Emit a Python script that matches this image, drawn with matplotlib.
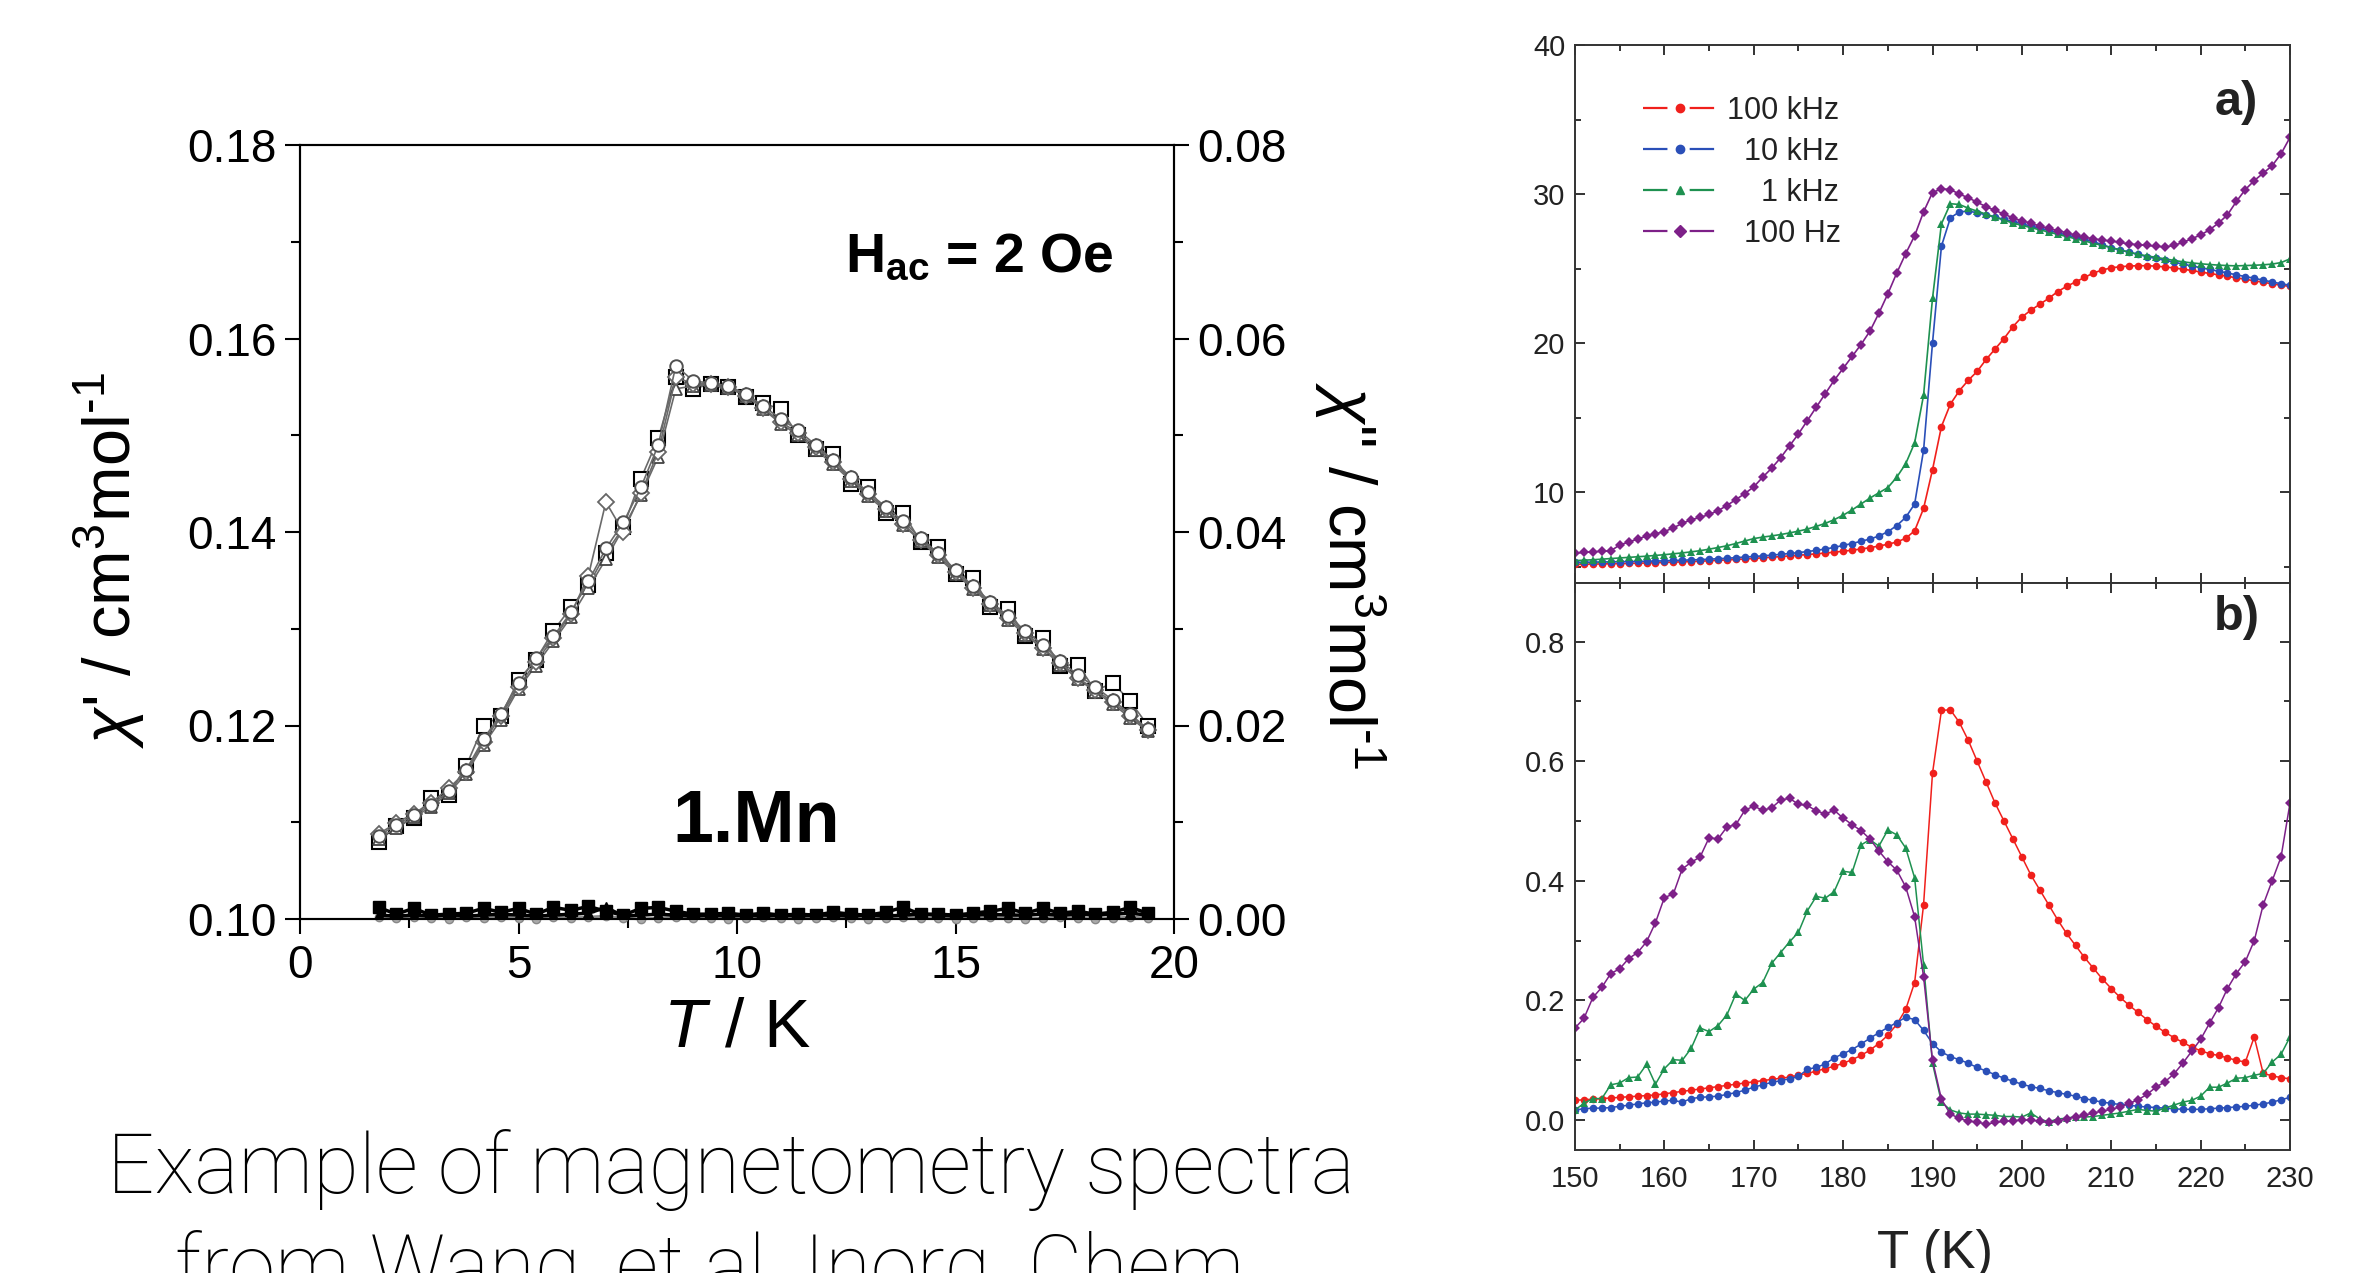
import matplotlib
matplotlib.use("Agg")
import matplotlib.pyplot as plt
from matplotlib.lines import Line2D
from matplotlib.ticker import MultipleLocator, FormatStrFormatter

plt.rcParams['font.family'] = ['Liberation Sans', 'DejaVu Sans']
plt.rcParams['mathtext.fontset'] = 'custom'
plt.rcParams['mathtext.rm'] = 'Liberation Sans'
plt.rcParams['mathtext.it'] = 'Liberation Sans:italic'
plt.rcParams['mathtext.bf'] = 'Liberation Sans:bold'

# ---- left chart: 1.Mn, chi' (left axis) and chi'' (right axis) ----
T_mn = [1.8, 2.2, 2.6, 3.0, 3.4, 3.8, 4.2, 4.6, 5.0, 5.4, 5.8, 6.2, 6.6, 7.0, 7.4,
        7.8, 8.2, 8.6, 9.0, 9.4, 9.8, 10.2, 10.6, 11.0, 11.4, 11.8, 12.2, 12.6, 13.0,
        13.4, 13.8, 14.2, 14.6, 15.0, 15.4, 15.8, 16.2, 16.6, 17.0, 17.4, 17.8, 18.2,
        18.6, 19.0, 19.4]
chi1_sq = [0.1080, 0.1096, 0.1104, 0.1125, 0.1128, 0.1158, 0.1200, 0.1210, 0.1247,
           0.1268, 0.1298, 0.1322, 0.1345, 0.1378, 0.1405, 0.1455, 0.1497, 0.1560,
           0.1548, 0.1553, 0.1550, 0.1540, 0.1533, 0.1527, 0.1500, 0.1486, 0.1481,
           0.1450, 0.1446, 0.1420, 0.1420, 0.1390, 0.1384, 0.1357, 0.1352, 0.1322,
           0.1320, 0.1293, 0.1290, 0.1262, 0.1263, 0.1236, 0.1244, 0.1225, 0.1200]
chi1_tri = [0.1083, 0.1094, 0.1105, 0.1116, 0.1130, 0.1150, 0.1180, 0.1206, 0.1238,
            0.1262, 0.1287, 0.1312, 0.1342, 0.1372, 0.1404, 0.1438, 0.1478, 0.1548,
            0.1551, 0.1552, 0.1549, 0.1541, 0.1527, 0.1512, 0.1500, 0.1485, 0.1470,
            0.1453, 0.1437, 0.1422, 0.1407, 0.1391, 0.1374, 0.1357, 0.1341, 0.1325,
            0.1309, 0.1294, 0.1279, 0.1263, 0.1248, 0.1235, 0.1222, 0.1208, 0.1194]
chi1_dia = [0.1088, 0.1099, 0.1109, 0.1120, 0.1135, 0.1152, 0.1183, 0.1210, 0.1240,
            0.1266, 0.1290, 0.1315, 0.1355, 0.1431, 0.1400, 0.1440, 0.1483, 0.1560,
            0.1553, 0.1553, 0.1550, 0.1541, 0.1528, 0.1514, 0.1502, 0.1488, 0.1472,
            0.1455, 0.1439, 0.1424, 0.1408, 0.1392, 0.1376, 0.1359, 0.1342, 0.1326,
            0.1311, 0.1296, 0.1280, 0.1265, 0.1249, 0.1237, 0.1224, 0.1210, 0.1195]
chi1_circ = [0.1086, 0.1097, 0.1107, 0.1118, 0.1132, 0.1154, 0.1186, 0.1212, 0.1244,
             0.1270, 0.1292, 0.1317, 0.1349, 0.1383, 0.1410, 0.1446, 0.1490, 0.1572,
             0.1556, 0.1554, 0.1551, 0.1543, 0.1530, 0.1517, 0.1505, 0.1490, 0.1474,
             0.1457, 0.1441, 0.1426, 0.1411, 0.1394, 0.1378, 0.1361, 0.1344, 0.1328,
             0.1313, 0.1298, 0.1283, 0.1267, 0.1252, 0.1240, 0.1226, 0.1212, 0.1196]
chi2_sq = [0.0012, 0.0005, 0.0011, 0.0004, 0.0005, 0.0006, 0.0011, 0.0007, 0.0011,
           0.0005, 0.0012, 0.0009, 0.0013, 0.0008, 0.0004, 0.0011, 0.0012, 0.0008,
           0.0005, 0.0005, 0.0006, 0.0004, 0.0006, 0.0004, 0.0005, 0.0004, 0.0007,
           0.0005, 0.0004, 0.0007, 0.0012, 0.0005, 0.0005, 0.0004, 0.0006, 0.0008,
           0.0011, 0.0006, 0.0011, 0.0006, 0.0008, 0.0005, 0.0007, 0.0012, 0.0006]
chi2_tri = [0.0004, 0.0003, 0.0004, 0.0003, 0.0004, 0.0003, 0.0004, 0.0005, 0.0004,
            0.0003, 0.0004, 0.0005, 0.0006, 0.0012, 0.0003, 0.0004, 0.0005, 0.0004,
            0.0003, 0.0004, 0.0003, 0.0004, 0.0003, 0.0004, 0.0003, 0.0004, 0.0004,
            0.0003, 0.0004, 0.0003, 0.0004, 0.0005, 0.0004, 0.0003, 0.0004, 0.0005,
            0.0004, 0.0004, 0.0005, 0.0004, 0.0005, 0.0004, 0.0005, 0.0006, 0.0004]
chi2_circ = [0.0002, 0.0001, 0.0002, 0.0001, 0.0000, 0.0002, 0.0001, 0.0002, 0.0001,
             0.0000, 0.0002, 0.0001, 0.0002, 0.0003, 0.0001, 0.0000, 0.0001, 0.0002,
             0.0001, 0.0001, 0.0000, 0.0001, 0.0002, 0.0001, 0.0000, 0.0001, 0.0002,
             0.0001, 0.0000, 0.0001, 0.0002, 0.0001, 0.0001, 0.0000, 0.0001, 0.0002,
             0.0001, 0.0000, 0.0001, 0.0002, 0.0001, 0.0000, 0.0001, 0.0002, 0.0001]

# ---- right chart: panels a) and b), 150-230 K in 1 K steps ----
T_ab = list(range(150, 231))
freq_labels = ["100 kHz", "  10 kHz", "    1 kHz", "  100 Hz"]
freq_colors = ["#f0201c", "#2a4fb8", "#1e9150", "#7d2088"]
freq_markers = ["o", "o", "^", "D"]

a_100k = [5.15, 5.16, 5.17, 5.18, 5.19, 5.20, 5.21, 5.23, 5.24, 5.26,
          5.28, 5.30, 5.32, 5.34, 5.36, 5.39, 5.42, 5.45, 5.48, 5.51,
          5.55, 5.59, 5.63, 5.67, 5.72, 5.76, 5.81, 5.86, 5.91, 5.97,
          6.03, 6.10, 6.18, 6.27, 6.38, 6.50, 6.65, 6.90, 7.40, 8.90,
          11.5, 14.4, 15.9, 16.8, 17.5, 18.1, 18.9, 19.6, 20.3, 21.1,
          21.75, 22.2, 22.6, 23.0, 23.45, 23.8, 24.1, 24.4, 24.7, 24.9,
          25.05, 25.12, 25.17, 25.19, 25.19, 25.16, 25.11, 25.04, 24.96, 24.87,
          24.77, 24.67, 24.58, 24.48, 24.38, 24.28, 24.18, 24.08, 23.98, 23.88,
          23.8]
a_10k = [5.28, 5.29, 5.30, 5.31, 5.32, 5.33, 5.34, 5.35, 5.36, 5.37,
         5.39, 5.41, 5.43, 5.45, 5.47, 5.50, 5.53, 5.56, 5.60, 5.64,
         5.68, 5.72, 5.77, 5.82, 5.88, 5.94, 6.01, 6.09, 6.18, 6.29,
         6.42, 6.55, 6.70, 6.85, 7.05, 7.34, 7.75, 8.30, 9.20, 12.8,
         20.0, 26.5, 28.4, 28.8, 28.85, 28.75, 28.6, 28.45, 28.3, 28.15,
         28.0, 27.85, 27.7, 27.55, 27.4, 27.25, 27.1, 26.95, 26.8, 26.6,
         26.4, 26.25, 26.1, 25.95, 25.8, 25.68, 25.55, 25.43, 25.3, 25.18,
         25.06, 24.94, 24.82, 24.7, 24.58, 24.46, 24.35, 24.22, 24.1, 23.98,
         23.88]
a_1k = [5.40, 5.43, 5.46, 5.50, 5.54, 5.58, 5.62, 5.66, 5.70, 5.75,
        5.80, 5.86, 5.92, 5.99, 6.07, 6.17, 6.28, 6.40, 6.55, 6.72,
        6.88, 6.98, 7.06, 7.15, 7.26, 7.38, 7.52, 7.70, 7.90, 8.15,
        8.45, 8.80, 9.20, 9.60, 9.95, 10.3, 11.0, 11.9, 13.3, 16.5,
        23.0, 28.0, 29.35, 29.3, 29.05, 28.85, 28.65, 28.45, 28.25, 28.05,
        27.9, 27.75, 27.6, 27.45, 27.3, 27.15, 27.0, 26.85, 26.7, 26.55,
        26.4, 26.25, 26.1, 25.95, 25.85, 25.75, 25.65, 25.55, 25.45, 25.38,
        25.32, 25.27, 25.23, 25.2, 25.18, 25.2, 25.22, 25.25, 25.3, 25.4,
        25.65]
a_100 = [5.90, 5.95, 6.00, 6.02, 6.06, 6.45, 6.65, 6.85, 7.05, 7.20,
         7.35, 7.60, 7.90, 8.15, 8.30, 8.50, 8.75, 9.10, 9.50, 9.90,
         10.35, 11.0, 11.6, 12.3, 13.1, 13.9, 14.8, 15.7, 16.6, 17.5,
         18.3, 19.1, 19.9, 20.8, 22.0, 23.3, 24.7, 26.0, 27.2, 28.8,
         30.1, 30.35, 30.3, 30.0, 29.75, 29.45, 29.15, 28.9, 28.65, 28.4,
         28.2, 28.05, 27.85, 27.7, 27.55, 27.4, 27.25, 27.1, 27.0, 26.9,
         26.85, 26.75, 26.65, 26.6, 26.55, 26.5, 26.45, 26.55, 26.75, 27.0,
         27.25, 27.6, 28.05, 28.6, 29.5, 30.3, 30.9, 31.4, 31.9, 32.7,
         33.8]

b_100k = [0.033, 0.034, 0.035, 0.036, 0.037, 0.038, 0.039, 0.040, 0.041, 0.042,
          0.044, 0.046, 0.048, 0.050, 0.052, 0.054, 0.056, 0.058, 0.060, 0.062,
          0.064, 0.066, 0.068, 0.070, 0.072, 0.075, 0.078, 0.082, 0.086, 0.090,
          0.095, 0.101, 0.108, 0.117, 0.128, 0.142, 0.160, 0.185, 0.230, 0.360,
          0.580, 0.685, 0.686, 0.665, 0.635, 0.600, 0.565, 0.530, 0.500, 0.470,
          0.440, 0.410, 0.385, 0.360, 0.335, 0.312, 0.292, 0.272, 0.254, 0.236,
          0.220, 0.205, 0.192, 0.180, 0.168, 0.157, 0.147, 0.138, 0.130, 0.122,
          0.116, 0.111, 0.108, 0.104, 0.100, 0.097, 0.139, 0.078, 0.074, 0.071,
          0.069]
b_10k = [0.017, 0.019, 0.020, 0.020, 0.021, 0.023, 0.025, 0.027, 0.029, 0.030,
         0.032, 0.033, 0.030, 0.036, 0.038, 0.039, 0.040, 0.043, 0.046, 0.050,
         0.055, 0.059, 0.063, 0.066, 0.069, 0.073, 0.085, 0.088, 0.094, 0.104,
         0.111, 0.118, 0.127, 0.137, 0.146, 0.155, 0.163, 0.172, 0.168, 0.150,
         0.128, 0.114, 0.106, 0.101, 0.095, 0.088, 0.082, 0.076, 0.070, 0.065,
         0.060, 0.056, 0.053, 0.049, 0.046, 0.043, 0.040, 0.036, 0.033, 0.030,
         0.028, 0.026, 0.025, 0.023, 0.022, 0.021, 0.020, 0.019, 0.018, 0.018,
         0.018, 0.019, 0.020, 0.021, 0.022, 0.023, 0.025, 0.027, 0.030, 0.034,
         0.038]
b_1k = [0.017, 0.028, 0.036, 0.036, 0.059, 0.062, 0.071, 0.072, 0.093, 0.060,
        0.086, 0.101, 0.100, 0.120, 0.154, 0.148, 0.158, 0.176, 0.211, 0.200,
        0.219, 0.230, 0.262, 0.280, 0.298, 0.314, 0.350, 0.374, 0.371, 0.382,
        0.416, 0.414, 0.460, 0.469, 0.458, 0.485, 0.477, 0.455, 0.405, 0.260,
        0.095, 0.030, 0.017, 0.012, 0.010, 0.010, 0.009, 0.008, 0.006, 0.006,
        0.005, 0.012, 0.002, -0.003, 0.002, 0.003, 0.006, 0.005, 0.006, 0.008,
        0.010, 0.012, 0.015, 0.018, 0.016, 0.015, 0.020, 0.025, 0.030, 0.033,
        0.040, 0.055, 0.055, 0.062, 0.070, 0.071, 0.075, 0.078, 0.097, 0.110,
        0.139]
b_100 = [0.154, 0.170, 0.205, 0.222, 0.245, 0.253, 0.270, 0.280, 0.298, 0.330,
         0.372, 0.378, 0.420, 0.431, 0.440, 0.472, 0.470, 0.490, 0.494, 0.518,
         0.525, 0.518, 0.522, 0.535, 0.538, 0.528, 0.526, 0.517, 0.512, 0.518,
         0.505, 0.494, 0.484, 0.470, 0.450, 0.432, 0.418, 0.390, 0.340, 0.240,
         0.100, 0.035, 0.010, 0.003, -0.002, -0.003, -0.007, -0.004, -0.002, -0.001,
         0.000, 0.000, -0.002, -0.004, -0.002, 0.002, 0.005, 0.008, 0.012, 0.015,
         0.018, 0.022, 0.028, 0.034, 0.043, 0.055, 0.064, 0.077, 0.095, 0.115,
         0.135, 0.162, 0.188, 0.220, 0.245, 0.265, 0.300, 0.360, 0.400, 0.440,
         0.530]

W, H = 2367, 1273
fig = plt.figure(figsize=(W / 100, H / 100), dpi=100)


def rect(l, t, r, b):
    # pixel box -> figure fraction
    return [l / W, 1 - b / H, (r - l) / W, (b - t) / H]


# left chart
ax1 = fig.add_axes(rect(300, 145, 1174, 919))
ax2 = ax1.twinx()
gray = "#6a6a6a"
ax1.plot(T_mn, chi1_sq, '-', color=gray, lw=1.2, marker='s', ms=10, mfc='white', mec='black', mew=1.5)
ax1.plot(T_mn, chi1_tri, '-', color=gray, lw=1.2, marker='^', ms=9, mfc='white', mec='#444444', mew=1.3)
ax1.plot(T_mn, chi1_dia, '-', color=gray, lw=1.2, marker='D', ms=8, mfc='white', mec='#666666', mew=1.3)
ax1.plot(T_mn, chi1_circ, '-', color=gray, lw=1.2, marker='o', ms=9, mfc='white', mec='#505050', mew=1.4)
ax2.plot(T_mn, chi2_circ, '-', color='#888888', lw=2, marker='o', ms=6, mfc='#aaaaaa', mec='#888888',
         clip_on=False)
ax2.plot(T_mn, chi2_sq, '-', color='black', lw=2.5, marker='s', ms=9, mfc='black', mec='black')
ax2.plot(T_mn, chi2_tri, '-', color='black', lw=2.5, marker='^', ms=7, mfc='black', mec='black')

ax1.set_xlim(0, 20)
ax1.set_ylim(0.10, 0.18)
ax2.set_ylim(0.0, 0.08)
ax1.xaxis.set_major_locator(MultipleLocator(5))
ax1.xaxis.set_minor_locator(MultipleLocator(2.5))
ax1.yaxis.set_major_locator(MultipleLocator(0.02))
ax1.yaxis.set_minor_locator(MultipleLocator(0.01))
ax2.yaxis.set_major_locator(MultipleLocator(0.02))
ax2.yaxis.set_minor_locator(MultipleLocator(0.01))
ax1.yaxis.set_major_formatter(FormatStrFormatter('%.2f'))
ax2.yaxis.set_major_formatter(FormatStrFormatter('%.2f'))
for a in (ax1, ax2):
    a.tick_params(which='major', direction='out', length=11, width=1.5, labelsize=33, pad=6)
    a.tick_params(which='minor', direction='out', length=6.5, width=1.5)
    for s in a.spines.values():
        s.set_linewidth(1.5)
ax1.tick_params(axis='x', which='major', pad=7)

ax1.set_xlabel(r"$T$ / K", fontsize=50)
ax1.xaxis.set_label_coords(0.5, -0.1)
fig.text(109 / W, 1 - 560 / H, "$\\chi$' / cm$^3$mol$^{\u2010 1}$", fontsize=48,
         rotation=90, ha='center', va='center')
fig.text(1350 / W, 1 - 575 / H, '$\\chi$" / cm$^3$mol$^{\u2010 1}$', fontsize=48,
         rotation=270, ha='center', va='center')
ax1.text(845 / W, 1 - 272 / H, r"$\mathbf{H_{ac}}$ = 2 Oe", transform=fig.transFigure,
         fontsize=40, fontweight='bold', ha='left', va='baseline')
ax1.text(756 / W, 1 - 842 / H, "1.Mn", transform=fig.transFigure,
         fontsize=53, fontweight='bold', ha='center', va='baseline')

# right chart
axa = fig.add_axes(rect(1575, 45, 2290, 583))
axb = fig.add_axes(rect(1575, 583, 2290, 1150))
series_a = [a_100k, a_10k, a_1k, a_100]
series_b = [b_100k, b_10k, b_1k, b_100]
for ys, c, m in zip(series_a, freq_colors, freq_markers):
    axa.plot(T_ab, ys, '-', color=c, lw=1.2, marker=m, ms=5.5 if m != 'D' else 4.6, mew=0)
for ys, c, m in zip(series_b, freq_colors, freq_markers):
    axb.plot(T_ab, ys, '-', color=c, lw=1.1, marker=m, ms=5.5 if m != 'D' else 4.6, mew=0)

for a in (axa, axb):
    a.set_xlim(150, 230)
    a.xaxis.set_major_locator(MultipleLocator(10))
    a.xaxis.set_minor_locator(MultipleLocator(5))
    a.tick_params(which='both', direction='in', top=True, right=True, width=1.3,
                  labelsize=21, colors='#222222', pad=7)
    a.tick_params(which='major', length=7)
    a.tick_params(which='minor', length=4.5)
    for s in a.spines.values():
        s.set_linewidth(1.4)
        s.set_color('#333333')
axa.set_ylim(3.9, 40)
axa.yaxis.set_major_locator(MultipleLocator(10))
axa.yaxis.set_minor_locator(MultipleLocator(5))
axa.tick_params(axis='x', labelbottom=False)
axb.set_ylim(-0.05, 0.898)
axb.yaxis.set_major_locator(MultipleLocator(0.2))
axb.yaxis.set_minor_locator(MultipleLocator(0.1))
axb.yaxis.set_major_formatter(FormatStrFormatter('%.1f'))
axb.tick_params(axis='x', pad=11)

handles = [Line2D([], [], color=c, marker=m, ms=6, lw=1.6, dashes=(11, 10))
           for c, m in zip(freq_colors, freq_markers)]
axa.legend(handles, freq_labels, loc='upper left', bbox_to_anchor=(0.095, 0.905),
           frameon=False, fontsize=22, handlelength=2.4, handletextpad=0.35,
           labelspacing=0.36, borderpad=0, borderaxespad=0, labelcolor='#222222')
axa.text(0.925, 0.893, "a)", transform=axa.transAxes, fontsize=35, fontweight='bold',
         ha='center', va='center', color='#222222')
axb.text(0.925, 0.94, "b)", transform=axb.transAxes, fontsize=35, fontweight='bold',
         ha='center', va='center', color='#222222')
fig.text(1935 / W, 1 - 1268 / H, "T (K)", fontsize=38, ha='center', va='baseline',
         color='#222222')

# caption
fig.text(731 / W, 1 - 1193 / H, "Example of magnetometry spectra", fontsize=60,
         family='Roboto', fontweight='light', ha='center', va='baseline')
fig.text(719 / W, 1 - 1294 / H, "from Wang, et al. Inorg. Chem.", fontsize=60,
         family='Roboto', fontweight='light', ha='center', va='baseline')

fig.savefig("out.png", dpi=100)
